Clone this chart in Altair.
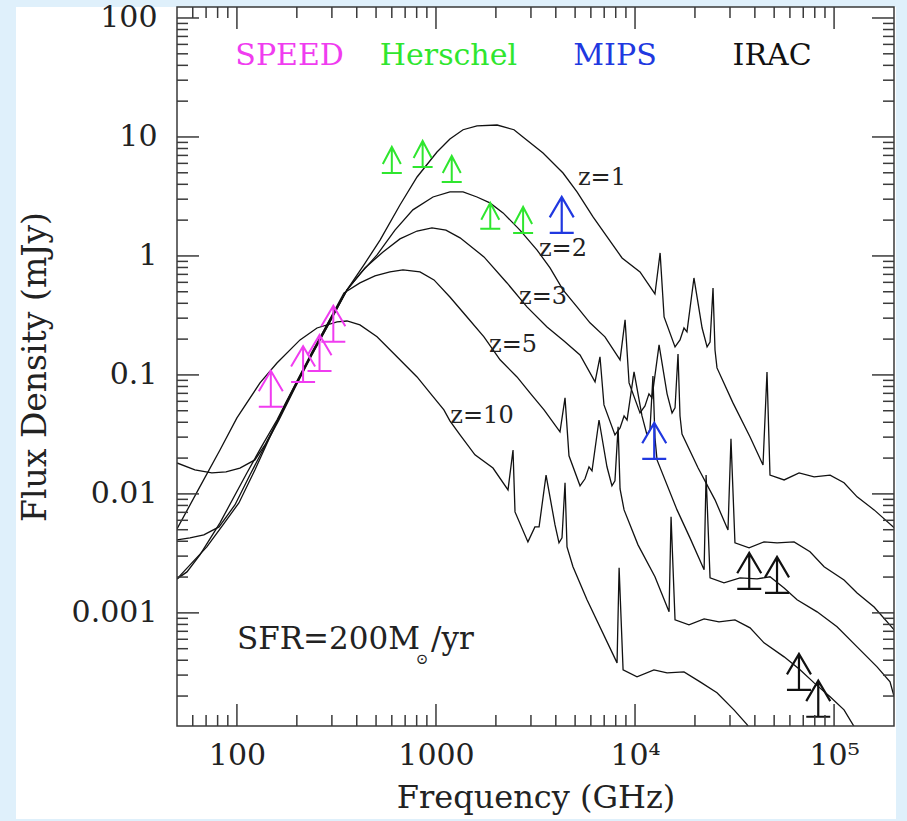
import altair as alt
import pandas as pd

# ---------------- model SEDs: observed frequency (GHz), flux density (mJy) ----------------
z1_freq = [50, 61.5, 74.8, 88.1, 103.5, 123.1, 138.3, 158.9, 188.8, 232.8,
           293.1, 357.3, 434.5, 523.6, 659.2, 803.5, 1012, 1175, 1368, 1607,
           2028, 2466, 2735, 3450, 4348, 5112, 6152, 7228, 8606, 10593,
           12593, 13366, 13996, 15885, 16826, 17619, 18237, 19770, 21727, 23014,
           23818, 24650, 25223, 25811, 31046, 37838, 43950, 46026, 47644, 56103,
           66700, 79365, 95500, 112200, 130500, 158900, 200400]
z1_flux = [0.0182, 0.0159, 0.0150, 0.0153, 0.0165, 0.0193, 0.0258, 0.0403, 0.0706, 0.139,
           0.279, 0.518, 0.840, 1.36, 2.68, 4.61, 7.48, 9.62, 11.5, 12.4,
           12.6, 11.5, 10.0, 7.34, 4.98, 3.45, 2.13, 1.45, 0.962, 0.734,
           0.479, 1.06, 0.307, 0.172, 0.197, 0.248, 0.230, 0.653, 0.248, 0.172,
           0.189, 0.538, 0.162, 0.1145, 0.0582, 0.0301, 0.0175, 0.106, 0.0144, 0.0131,
           0.0150, 0.0139, 0.0144, 0.0124, 0.00944, 0.00734, 0.00518]

z2_freq = [50, 58.1, 68.2, 81.3, 97.7, 116.2, 138.3, 162.6, 195.5, 238.2,
           293.1, 357.3, 424.6, 505.8, 622.3, 765.5, 966, 1175, 1368, 1607,
           1866, 2173, 2642, 3221, 3741, 4348, 5112, 5939, 7062, 8410,
           8913, 9333, 10593, 11220, 11749, 12162, 13206, 14488, 15346, 15885,
           16443, 16826, 17218, 20748, 25223, 29310, 30340, 31769, 37405, 44460,
           51704, 62951, 75706, 89091, 112200, 130500, 158900, 200400]
z2_flux = [0.00411, 0.00427, 0.00452, 0.00528, 0.00808, 0.0144, 0.0253, 0.0418, 0.0778, 0.147,
           0.279, 0.518, 0.734, 1.02, 1.65, 2.44, 3.13, 3.45, 3.45, 3.13,
           2.79, 2.30, 1.65, 1.12, 0.793, 0.518, 0.373, 0.274, 0.209, 0.134,
           0.290, 0.0857, 0.0479, 0.0549, 0.0693, 0.0641, 0.179, 0.0693, 0.0479, 0.0528,
           0.150, 0.0452, 0.0319, 0.0165, 0.00891, 0.00498, 0.0290, 0.00388, 0.00352, 0.00395,
           0.00388, 0.00395, 0.00326, 0.00244, 0.00189, 0.00147, 0.00112, 0.00072]

z3_freq = [50, 56.1, 65.2, 82.2, 112.2, 133.6, 158.9, 195.5, 238.2, 293.1,
           357.3, 439.5, 542.0, 659.2, 803.5, 954.9, 1122, 1321, 1742, 2275,
           2864, 3614, 4398, 5293, 6297, 6668, 6982, 7928, 8410, 8810,
           9120, 9886, 10839, 11482, 11885, 12303, 12593, 12900, 16255, 18880,
           22233, 22751, 23818, 27984, 33700, 41022, 47644, 56103, 65173, 82163,
           103500, 130500, 164400, 191000, 200400]
z3_flux = [0.00193, 0.00221, 0.00307, 0.00571, 0.0150, 0.0253, 0.0418, 0.0824, 0.156, 0.290,
           0.518, 0.793, 1.08, 1.39, 1.62, 1.72, 1.65, 1.42, 0.981, 0.593,
           0.373, 0.253, 0.193, 0.147, 0.0873, 0.142, 0.0560, 0.0313, 0.0359, 0.0452,
           0.0418, 0.106, 0.0452, 0.0313, 0.0345, 0.0981, 0.0296, 0.0193, 0.00734, 0.00427,
           0.00230, 0.0144, 0.00197, 0.00179, 0.00197, 0.00193, 0.00201, 0.00162, 0.00129, 0.00102,
           0.000763, 0.000518, 0.000352, 0.000263, 0.000197]

z5_freq = [50, 59.4, 70.6, 85.1, 102.3, 123.1, 146.5, 174.2, 207.5, 261.3,
           310.5, 345.1, 415.0, 493.6, 587.2, 682.9, 831.0, 977.2, 1175, 1432,
           1742, 2099, 2553, 2965, 3491, 4198, 4450, 4658, 5293, 5607,
           5872, 6081, 6593, 7228, 7656, 7928, 8222, 8410, 8810, 10351,
           12593, 14825, 15171, 15885, 18663, 22233, 26412, 31769, 37838, 44460,
           56103, 67473, 79365, 95500, 112200, 129000]
z5_flux = [0.00193, 0.00263, 0.00359, 0.00549, 0.00840, 0.0159, 0.0301, 0.0560, 0.0981, 0.205,
           0.352, 0.489, 0.593, 0.679, 0.734, 0.763, 0.734, 0.629, 0.452, 0.307,
           0.209, 0.134, 0.0962, 0.0706, 0.0508, 0.0332, 0.0641, 0.0209, 0.0117, 0.0134,
           0.0169, 0.0156, 0.0418, 0.0169, 0.0117, 0.0129, 0.0366, 0.0110, 0.00734, 0.00373,
           0.00201, 0.00102, 0.00641, 0.000873, 0.000793, 0.000890, 0.000840, 0.000873, 0.000748, 0.000560,
           0.000427, 0.000332, 0.000258, 0.000197, 0.000153, 0.000104]

z10_freq = [50, 65.2, 82.2, 100, 130.6, 158.9, 207.5, 252.5, 318.4, 357.3,
            415.0, 505.8, 636.8, 803.5, 933.3, 1096, 1175, 1321, 1570, 1934,
            2301, 2438, 2495, 2897, 3141, 3296, 3573, 3963, 4150, 4297,
            4450, 4553, 4878, 5738, 8123, 8318, 8710, 10233, 12446, 14488,
            17619, 21232, 25811, 31405, 36553, 38719]
z10_flux = [0.00508, 0.0115, 0.0234, 0.0435, 0.0857, 0.126, 0.197, 0.248, 0.279, 0.284,
            0.263, 0.209, 0.142, 0.0962, 0.0706, 0.0508, 0.0411, 0.0313, 0.0213, 0.0165,
            0.0108, 0.0234, 0.00706, 0.00395, 0.00528, 0.00528, 0.0144, 0.00549, 0.00388, 0.00427,
            0.0124, 0.00359, 0.00244, 0.00129, 0.000380, 0.00239, 0.000332, 0.000290, 0.000332, 0.000313,
            0.000319, 0.000263, 0.000213, 0.000153, 0.000115, 0.0000981]

# ---------------- survey sensitivities (bar sits at the limit) ----------------
speed_freq = [148, 215, 260, 305]
speed_flux = [0.054, 0.087, 0.108, 0.19]
herschel_freq = [600, 857, 1200, 1874, 2740]
herschel_flux = [4.98, 5.6, 4.19, 1.69, 1.56]
mips_freq = [4283, 12490]
mips_flux = [1.56, 0.0197]
irac_freq = [37474, 51688, 66620, 83275]
irac_flux = [1.59e-3, 1.47e-3, 2.25e-4, 1.34e-4]

# ---------------- labels ----------------
inst_names = ["SPEED", "Herschel", "MIPS", "IRAC"]
inst_colors = ["#f03cf0", "#2fe62f", "#2038e0", "#111111"]
inst_freq = [184, 1155, 7935, 48800]
inst_flux = [47.9, 47.9, 47.9, 47.9]

z_names = ["z=1", "z=2", "z=3", "z=5", "z=10"]
z_label_freq = [6823, 4345, 3450, 2438, 1703]
z_label_flux = [4.52, 1.145, 0.452, 0.179, 0.0452]

# ---------------- axis ticks ----------------
x_major = [100, 1000, 10000, 100000]
x_minor = [60, 70, 80, 90, 200, 300, 400, 500, 600, 700, 800, 900,
           2000, 3000, 4000, 5000, 6000, 7000, 8000, 9000,
           20000, 30000, 40000, 50000, 60000, 70000, 80000, 90000]
y_major = [0.001, 0.01, 0.1, 1, 10, 100]
y_minor = [2e-4, 3e-4, 4e-4, 5e-4, 6e-4, 7e-4, 8e-4, 9e-4,
           0.002, 0.003, 0.004, 0.005, 0.006, 0.007, 0.008, 0.009,
           0.02, 0.03, 0.04, 0.05, 0.06, 0.07, 0.08, 0.09,
           0.2, 0.3, 0.4, 0.5, 0.6, 0.7, 0.8, 0.9,
           2, 3, 4, 5, 6, 7, 8, 9,
           20, 30, 40, 50, 60, 70, 80, 90]

W, H = 717, 719
FONT = "DejaVu Serif"
INK = "#222222"
FRAME = "#3a3a3a"

xs = alt.Scale(type="log", domain=[50, 2e5], nice=False)
ys = alt.Scale(type="log", domain=[1.12e-4, 123.7], nice=False)


def X(field):
    return alt.X(field, scale=xs, axis=None)


def Y(field):
    return alt.Y(field, scale=ys, axis=None)


# white page panel behind the figure
panel = alt.Chart(pd.DataFrame({"a": [0]})).mark_rect(color="white").encode(
    x=alt.value(-161), x2=alt.value(719), y=alt.value(0), y2=alt.value(812)
)

series = [("1", z1_freq, z1_flux), ("2", z2_freq, z2_flux), ("3", z3_freq, z3_flux),
          ("5", z5_freq, z5_flux), ("10", z10_freq, z10_flux)]
curves = pd.concat(
    [pd.DataFrame({"z": name, "freq": f, "flux": s, "i": range(len(f))}) for name, f, s in series],
    ignore_index=True,
)

x_axis = alt.Axis(
    values=x_major,
    labelExpr="datum.value > 50000 ? '10⁵' : (datum.value > 5000 ? '10⁴' : format(datum.value, 'd'))",
    title="Frequency (GHz)",
    ticks=False, domain=False, grid=False, tickSize=0, zindex=2,
    labelFont=FONT, labelFontSize=30, labelColor=INK, labelPadding=14,
    labelFlush=False, labelOverlap=False,
    titleFont=FONT, titleFontSize=32, titleFontWeight="normal", titleColor=INK, titlePadding=12,
)
y_axis = alt.Axis(
    values=y_major, format="~g",
    title="Flux Density (mJy)",
    ticks=False, domain=False, grid=False, tickSize=0, zindex=2,
    labelFont=FONT, labelFontSize=30, labelColor=INK, labelPadding=20,
    labelFlush=False, labelOverlap=False,
    titleFont=FONT, titleFontSize=33, titleFontWeight="normal", titleColor=INK, titlePadding=19,
)

lines = alt.Chart(curves).mark_line(color="#111111", strokeWidth=1.3, clip=True).encode(
    x=alt.X("freq:Q", scale=xs, axis=x_axis),
    y=alt.Y("flux:Q", scale=ys, axis=y_axis),
    detail="z:N",
    order="i:Q",
)

# arrow glyph: bar at the limit, shaft and open head pointing up
BIG_ARROW = "M-1,0L1,0M0,0L0,-3M-1,-1.3L0,-3L1,-1.3"
SMALL_ARROW = "M-1,0L1,0M0,0L0,-2.6M-0.9,-0.9L0,-2.6L0.9,-0.9"


def arrows(freq, flux, color, shape, size, width=2):
    df = pd.DataFrame({"freq": freq, "flux": flux})
    return alt.Chart(df).mark_point(
        shape=shape, size=size, filled=False, strokeWidth=width, opacity=1, color=color
    ).encode(x=X("freq:Q"), y=Y("flux:Q"))


speed_pts = arrows(speed_freq, speed_flux, inst_colors[0], BIG_ARROW, 576)
herschel_pts = arrows(herschel_freq, herschel_flux, inst_colors[1], SMALL_ARROW, 400)
mips_pts = arrows(mips_freq, mips_flux, inst_colors[2], BIG_ARROW, 576, 2.2)
irac_pts = arrows(irac_freq, irac_flux, inst_colors[3], BIG_ARROW, 576, 2.2)


# inward-pointing ticks on all four sides
def xticks(vals, length):
    df = pd.DataFrame({"v": vals})
    base = alt.Chart(df).mark_rule(color=FRAME, strokeWidth=1.5)
    return (base.encode(x=X("v:Q"), y=alt.value(H), y2=alt.value(H - length))
            + base.encode(x=X("v:Q"), y=alt.value(0), y2=alt.value(length)))


def yticks(vals, length):
    df = pd.DataFrame({"v": vals})
    base = alt.Chart(df).mark_rule(color=FRAME, strokeWidth=1.5)
    return (base.encode(y=Y("v:Q"), x=alt.value(0), x2=alt.value(length))
            + base.encode(y=Y("v:Q"), x=alt.value(W), x2=alt.value(W - length)))


frame = alt.Chart(pd.DataFrame({"a": [0]})).mark_rect(
    fill=None, stroke=FRAME, strokeWidth=1.5
).encode(x=alt.value(0), x2=alt.value(W), y=alt.value(0), y2=alt.value(H))

inst_df = pd.DataFrame({"t": inst_names, "c": inst_colors, "freq": inst_freq, "flux": inst_flux})
inst_text = alt.Chart(inst_df).mark_text(
    font=FONT, fontSize=30, align="center", baseline="middle"
).encode(x=X("freq:Q"), y=Y("flux:Q"), text="t:N", color=alt.Color("c:N", scale=None))

zl_df = pd.DataFrame({"t": z_names, "freq": z_label_freq, "flux": z_label_flux})
z_text = alt.Chart(zl_df).mark_text(
    font=FONT, fontSize=24, align="center", baseline="middle", color=INK
).encode(x=X("freq:Q"), y=Y("flux:Q"), text="t:N")

# star-formation-rate note, with the solar symbol as a subscript
sfr_main = alt.Chart(pd.DataFrame({"t": ["SFR=200M"], "freq": [100], "flux": [4.98e-4]})).mark_text(
    font=FONT, fontSize=31, align="left", baseline="alphabetic", color=INK
).encode(x=X("freq:Q"), y=Y("flux:Q"), text="t:N")
sfr_sun = alt.Chart(pd.DataFrame({"t": ["⊙"], "freq": [851], "flux": [4.1e-4]})).mark_text(
    font=FONT, fontSize=15, align="center", baseline="middle", color=INK
).encode(x=X("freq:Q"), y=Y("flux:Q"), text="t:N")
sfr_unit = alt.Chart(pd.DataFrame({"t": ["/yr"], "freq": [944], "flux": [4.98e-4]})).mark_text(
    font=FONT, fontSize=31, align="left", baseline="alphabetic", color=INK
).encode(x=X("freq:Q"), y=Y("flux:Q"), text="t:N")

chart = alt.layer(
    panel, lines, speed_pts, herschel_pts, mips_pts, irac_pts,
    xticks(x_major, 22), xticks(x_minor, 11), yticks(y_major, 22), yticks(y_minor, 11),
    frame, inst_text, z_text, sfr_main, sfr_sun, sfr_unit,
).resolve_axis(
    x="independent", y="independent"
).properties(
    width=W, height=H,
    padding={"left": 177, "top": 7, "right": 13, "bottom": 95},
    autosize=alt.AutoSizeParams(type="none"),
    background="#dff0fb",
).configure_view(stroke=None)

chart.save("out.html", embed_options={"renderer": "svg", "actions": False})
